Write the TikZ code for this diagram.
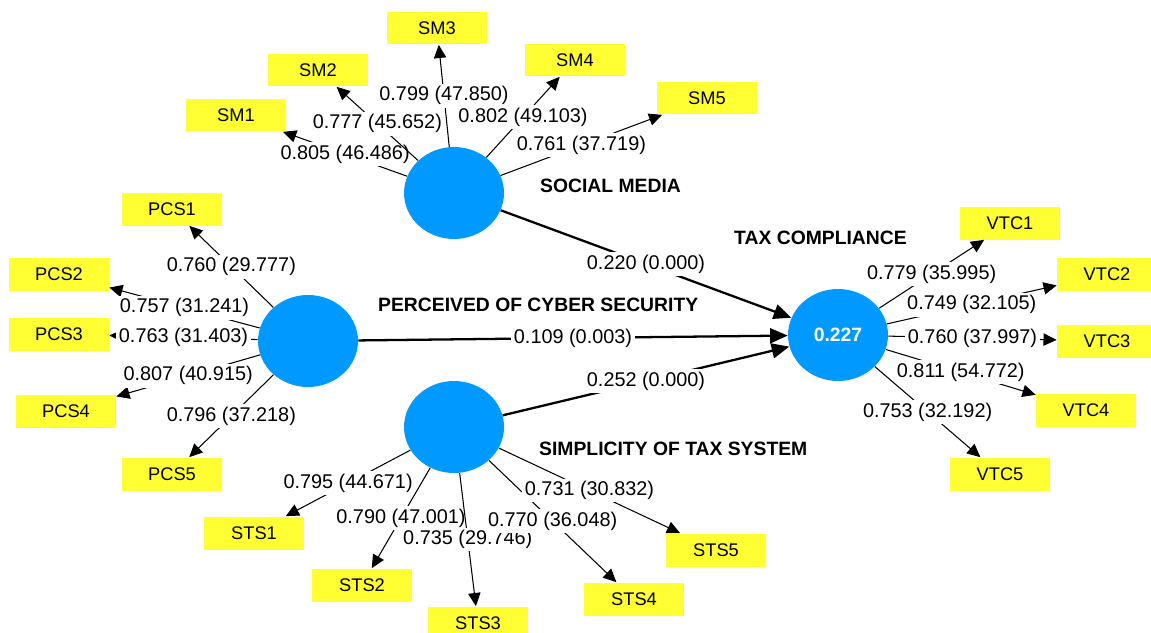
\documentclass[tikz,border=0pt]{standalone}
\usepackage{fontspec}
\setmainfont{Liberation Sans}
\usetikzlibrary{shapes,arrows.meta}
\definecolor{lvblue}{RGB}{0,153,255}
\definecolor{mvyellow}{RGB}{255,255,51}

\begin{document}
\begin{tikzpicture}[
    x=0.02cm, y=-0.02cm,
    latent/.style={ellipse, fill=lvblue, minimum width=2cm, minimum height=1.84cm, inner sep=0pt},
    indic/.style={rectangle, fill=mvyellow, minimum width=2cm, minimum height=0.66cm, font=\fontsize{10.4}{12}\selectfont},
    lvname/.style={anchor=west, font=\fontsize{11}{13}\selectfont\bfseries},
    coef/.style={fill=white, inner sep=1.5pt, font=\fontsize{11.3}{13}\selectfont},
    load/.style={->, >={Triangle[length=7.5pt,width=7pt]}, line width=0.6pt},
    effect/.style={->, >={Triangle[length=10pt,width=8.5pt]}, line width=1.3pt}
]
    \useasboundingbox (0,0) rectangle (1151,632);

    % Costrutti
    \node[latent] (sm) at (454,193) {};
    \node[latent] (pcs) at (308,341) {};
    \node[latent] (sts) at (454,427) {};
    \node[latent, text=white, font=\fontsize{11}{13}\selectfont\bfseries] (tc) at (838,335) {0.227};

    % Nomi dei costrutti
    \node[lvname] (smname) at (534,186) {SOCIAL MEDIA};
    \node[lvname] (tcname) at (728,238) {TAX COMPLIANCE};
    \node[lvname] (pcsname) at (372,305) {PERCEIVED OF CYBER SECURITY};
    \node[lvname] (stsname) at (533,449) {SIMPLICITY OF TAX SYSTEM};

    % Indicatori
    \node[indic] (sm1) at (236,115) {SM1};
    \node[indic] (sm2) at (318,70) {SM2};
    \node[indic] (sm3) at (437,28) {SM3};
    \node[indic] (sm4) at (575,60) {SM4};
    \node[indic] (sm5) at (707,98) {SM5};

    \node[indic] (pcs1) at (172,209) {PCS1};
    \node[indic] (pcs2) at (59,274) {PCS2};
    \node[indic] (pcs3) at (59,334) {PCS3};
    \node[indic] (pcs4) at (66,411) {PCS4};
    \node[indic] (pcs5) at (172,474) {PCS5};

    \node[indic] (sts1) at (254,533) {STS1};
    \node[indic] (sts2) at (362,585) {STS2};
    \node[indic] (sts3) at (478,623) {STS3};
    \node[indic] (sts4) at (634,599) {STS4};
    \node[indic] (sts5) at (716,550) {STS5};

    \node[indic] (vtc1) at (1010,223) {VTC1};
    \node[indic] (vtc2) at (1107,274) {VTC2};
    \node[indic] (vtc3) at (1107,341) {VTC3};
    \node[indic] (vtc4) at (1086,410) {VTC4};
    \node[indic] (vtc5) at (1000,474) {VTC5};

    % Loadings
    \draw[load] (sm) -- node[coef] {0.805 (46.486)} (sm1);
    \draw[load] (sm) -- node[coef] {0.777 (45.652)} (sm2);
    \draw[load] (sm) -- node[coef] {0.799 (47.850)} (sm3);
    \draw[load] (sm) -- node[coef] {0.802 (49.103)} (sm4);
    \draw[load] (sm) -- node[coef] {0.761 (37.719)} (sm5);

    \draw[load] (pcs) -- node[coef] {0.760 (29.777)} (pcs1);
    \draw[load] (pcs) -- node[coef] {0.757 (31.241)} (pcs2);
    \draw[load] (pcs) -- node[coef] {0.763 (31.403)} (pcs3);
    \draw[load] (pcs) -- node[coef] {0.807 (40.915)} (pcs4);
    \draw[load] (pcs) -- node[coef] {0.796 (37.218)} (pcs5);

    \draw[load] (sts) -- node[coef] {0.795 (44.671)} (sts1);
    \draw[load] (sts) -- node[coef] {0.790 (47.001)} (sts2);
    \draw[load] (sts) -- node[coef] {0.735 (29.746)} (sts3);
    \draw[load] (sts) -- node[coef] {0.770 (36.048)} (sts4);
    \draw[load] (sts) -- node[coef] {0.731 (30.832)} (sts5);

    \draw[load] (tc) -- node[coef] {0.779 (35.995)} (vtc1);
    \draw[load] (tc) -- node[coef] {0.749 (32.105)} (vtc2);
    \draw[load] (tc) -- node[coef] {0.760 (37.997)} (vtc3);
    \draw[load] (tc) -- node[coef] {0.811 (54.772)} (vtc4);
    \draw[load] (tc) -- node[coef] {0.753 (32.192)} (vtc5);

    % Percorsi strutturali
    \draw[effect] (sm) -- node[coef] {0.220 (0.000)} (tc);
    \draw[effect] (pcs) -- node[coef] {0.109 (0.003)} (tc);
    \draw[effect] (sts) -- node[coef] {0.252 (0.000)} (tc);
\end{tikzpicture}
\end{document}
